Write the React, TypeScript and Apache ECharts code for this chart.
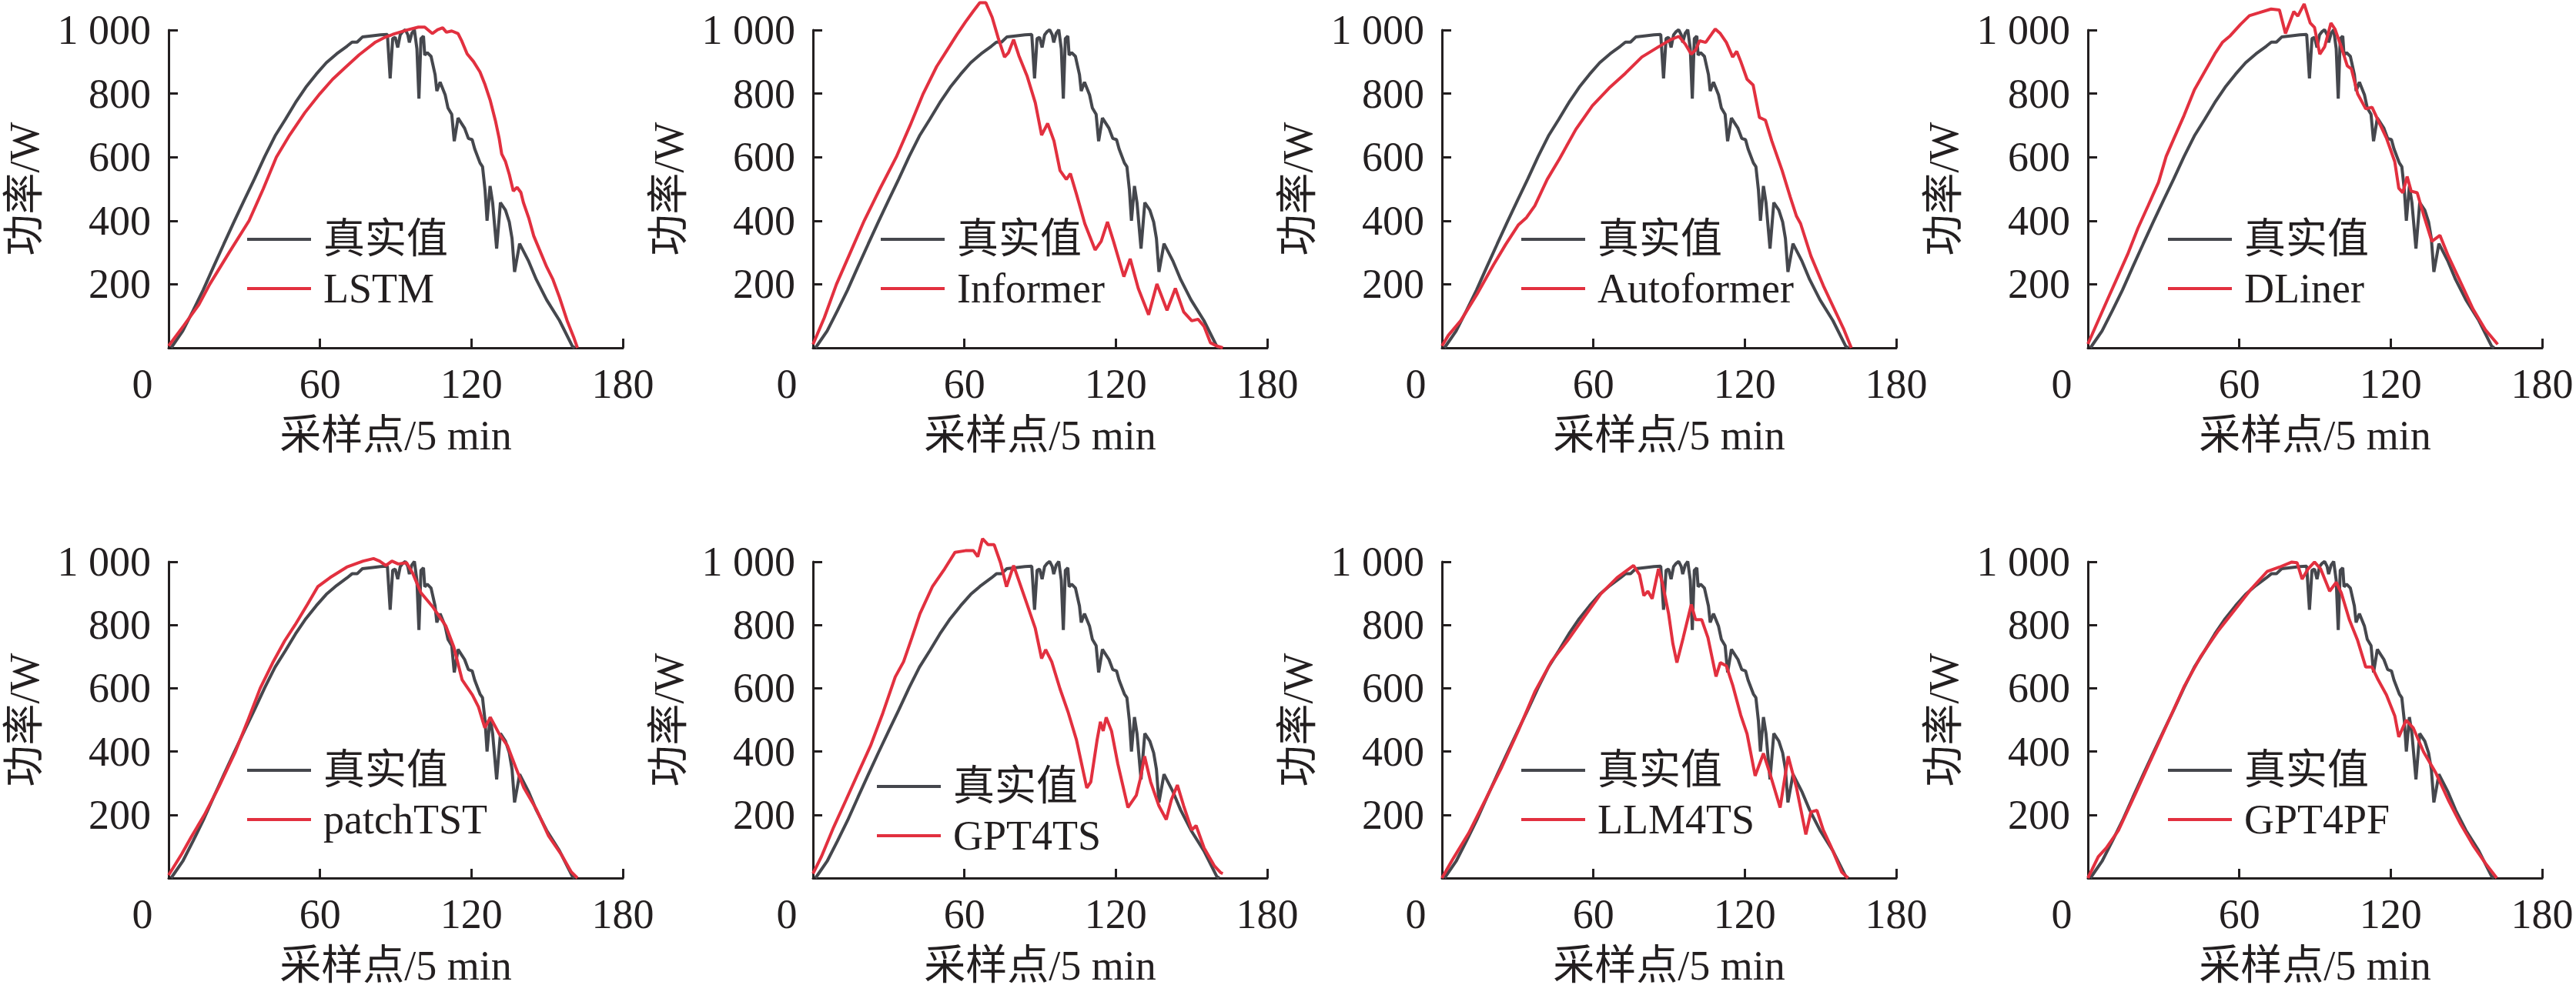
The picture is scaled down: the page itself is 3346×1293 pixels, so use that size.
import React, { useEffect, useRef } from 'react';
import * as echarts from 'echarts';

// ---------- data (x: 采样点, y: 功率/W) ----------
const X_TICKS = [0, 60, 120, 180];
const Y_TICKS = [200, 400, 600, 800, 1000];
const TRUTH_NAME = '真实值';
const MODEL_NAMES = ['LSTM', 'Informer', 'Autoformer', 'DLiner', 'patchTST', 'GPT4TS', 'LLM4TS', 'GPT4PF'];

const TRUTH: number[][] = [
  [1, 0], [5.6, 53], [9.7, 117], [13.7, 182], [17.8, 255], [21.9, 327], [25.9, 396], [30, 465],
  [34.1, 533], [38.1, 602], [42.2, 667], [46.3, 719], [50.3, 772], [54.4, 820], [58.5, 861],
  [62.5, 897], [66.6, 925], [70.7, 949], [72.7, 962], [74.7, 962], [76.8, 978], [80.8, 982], [84, 985],
  [86.7, 986], [87.8, 848], [88.8, 973], [89.8, 977], [90.8, 945], [91.8, 985], [92.8, 995], [93.8, 1001],
  [94.8, 985], [95.4, 961], [96.4, 990], [97.4, 1001], [98.4, 941], [99.2, 784], [100, 973], [101, 981],
  [101.5, 921], [102.5, 929], [104, 917], [105.6, 860], [106.3, 808], [107.6, 836], [109.6, 796],
  [110.7, 755], [112.2, 735], [113.2, 650], [114.7, 723], [117.3, 691], [118.8, 659], [120.3, 655],
  [121.3, 626], [123.4, 582], [124.4, 570], [125.4, 497], [126.2, 400], [127.4, 509], [128.4, 457],
  [130, 312], [131.5, 457], [133.5, 433], [135, 396], [136.1, 344], [137.1, 239], [139.1, 328],
  [142.7, 272], [145.7, 215], [149.8, 151], [154.9, 86], [160, 5], [161, 0],
];

const LSTM: number[][] = [
  [0, 6], [6, 70], [12, 136], [16.3, 200], [24, 300], [31.9, 400], [37.5, 500], [42.7, 600], [48, 670],
  [54, 740], [60, 800], [65, 845], [70, 882], [75.5, 922], [82, 962], [86, 978],
  [89.8, 989], [94.9, 1001], [99, 1009], [101.5, 1009], [104.5, 989], [106.6, 1001], [108.6, 1007],
  [110.1, 993], [112.2, 997], [114.7, 989], [116.2, 965], [118.3, 925], [120.8, 901], [123.4, 868],
  [125.4, 828], [127.4, 780], [129.5, 715], [131, 659], [132, 610], [133.5, 586], [135, 546],
  [136.6, 493], [138.1, 505], [139.6, 489], [140.6, 457], [142.7, 409], [144.7, 352], [146.8, 312],
  [149.8, 255], [152.3, 215], [154.9, 159], [157.9, 86], [160.5, 34], [162, 0],
];

const INFORMER: number[][] = [
  [0, 11], [4.5, 95], [9.3, 200], [14.8, 300], [20.3, 400], [26.5, 500], [33, 600], [38.5, 700],
  [43.7, 800], [49, 885], [53, 935], [57, 985], [60.4, 1025], [63.6, 1060], [66.1, 1086], [68.5, 1086],
  [71, 1040], [73.4, 975], [75.9, 915], [77.5, 929], [79.5, 970], [81.6, 919], [84.9, 854], [88.1, 771],
  [90.6, 669], [93, 706], [95.5, 651], [97.9, 558], [100.4, 530], [102, 548], [104.4, 484], [107.7, 391],
  [111.8, 308], [114.2, 335], [116.7, 396], [119.1, 335], [123.2, 224], [125.7, 280], [128.9, 187],
  [133, 104], [136.3, 201], [140.3, 118], [143.6, 187], [146.9, 113], [150.1, 85], [152.6, 90],
  [155, 67], [157.5, 16], [159.9, 6], [162.4, 0],
];

const AUTOFORMER: number[][] = [
  [0, 6], [2.5, 39], [7.4, 85], [13.9, 169], [20.4, 261], [25.3, 326], [30.2, 386], [33.5, 410],
  [36.8, 447], [41.7, 530], [46.6, 595], [53.1, 688], [59.6, 762], [66.2, 817], [72.7, 864], [79.2, 915],
  [85.8, 947], [90.7, 970], [93.9, 980], [96.4, 956], [98.8, 924], [100.5, 937], [102.1, 966],
  [104.5, 961], [107, 989], [108.3, 1003], [110.3, 989], [112.7, 961], [115.2, 915], [116.8, 933],
  [118.4, 901], [120.9, 845], [123.3, 827], [125.8, 725], [128.2, 716], [130.7, 651], [134.8, 558],
  [138, 475], [140.5, 414], [142.1, 391], [146.2, 289], [151.1, 196], [156, 113], [159.3, 57], [162.2, 0],
];

const DLINER: number[][] = [
  [0, 12], [3.6, 77], [7.6, 149], [11.7, 222], [15.8, 295], [19.8, 376], [23.9, 448], [28, 521],
  [31, 602], [34.1, 659], [38.1, 731], [42.2, 812], [46.3, 869], [50.3, 925], [53.4, 962], [56.4, 982],
  [60.5, 1018], [64, 1045], [67.7, 1054], [72.6, 1066], [75.9, 1063], [78.3, 989],
  [81.6, 1058], [83.2, 1044], [85.7, 1082], [88.1, 1022], [89.8, 1008], [91.9, 924], [93.8, 947],
  [96.3, 1022], [97.9, 1003], [100.4, 947], [102.8, 887], [104.4, 878], [106.9, 799], [110.1, 752],
  [112.6, 757], [115, 716], [118.3, 660], [121.6, 586], [123.2, 502], [124.8, 488], [126.5, 539],
  [128.1, 493], [130.5, 488], [133, 419], [136.3, 335], [139.5, 354], [142.8, 289], [147.7, 206],
  [152.6, 122], [157.5, 57], [162.4, 11],
];

const PATCHTST: number[][] = [
  [0, 9], [5.2, 76], [9, 130], [14.2, 200], [20, 290], [26.5, 400], [31, 490], [36.3, 600], [41.2, 680],
  [46, 750], [50.1, 800], [55, 865], [59.1, 921], [64, 950], [70.6, 983], [77.1, 1002], [81.2, 1010],
  [83.6, 1002], [86.1, 988], [88.5, 1002], [91, 993], [94.3, 997], [96.7, 964], [100, 902], [104.9, 855],
  [109.8, 798], [113, 731], [116.3, 627], [120.4, 579], [122.8, 541], [125.3, 475], [127.5, 508],
  [131, 456], [134.3, 418], [137.5, 351], [140.8, 285], [145.7, 218], [150.6, 133], [155.5, 76],
  [159.6, 19], [162, 0],
];

const GPT4TS: number[][] = [
  [0, 14], [3.3, 67], [8.2, 161], [13.1, 247], [17.9, 332], [22.8, 418], [27.7, 522], [32.6, 636],
  [35.9, 684], [39.2, 760], [42.4, 836], [47.3, 921], [52.2, 978], [56.3, 1030], [60.4, 1035],
  [63.6, 1035], [65.3, 1016], [67.2, 1073], [69.4, 1054], [71.8, 1054], [74.3, 997], [76.7, 921],
  [79.5, 988], [81.6, 940], [84.9, 864], [88.1, 789], [90.6, 694], [92.2, 722], [94.6, 684], [97.9, 598],
  [101.2, 522], [104.4, 437], [108.5, 285], [110.1, 304], [112.6, 437], [113.9, 494], [115, 465],
  [116.2, 508], [118.3, 465], [120.8, 361], [124.8, 223], [128.1, 261], [129.7, 313], [131.4, 385],
  [133.8, 304], [137.1, 228], [140, 185], [142, 247], [144.4, 294], [146.9, 228], [150.1, 152],
  [151.8, 166], [155, 95], [159.1, 38], [161.6, 17], [162.4, 14],
];

const LLM4TS: number[][] = [
  [0, 0], [4.1, 57], [10.6, 142], [17.2, 247], [23.7, 351], [30.2, 465], [36.8, 589], [43.3, 684],
  [49.8, 751], [56.4, 826], [62.9, 898], [69.4, 950], [75.9, 988], [78.3, 959], [80, 893], [81.6, 907],
  [83.3, 883], [85.8, 978], [87.4, 931], [89.8, 836], [91.5, 741], [93.1, 681], [95.6, 760], [98.8, 865],
  [100.5, 817], [102.9, 817], [105.4, 760], [108.6, 637], [110.3, 681], [112.7, 671], [115.2, 610],
  [118.4, 515], [120.9, 456], [124.1, 323], [127.4, 394], [129.9, 332], [134, 223], [137.2, 385],
  [140.5, 285], [144.2, 138], [146.2, 209], [148.6, 214], [151.1, 152], [154.4, 95], [158.4, 19], [160.9, 0],
];

const GPT4PF: number[][] = [
  [0, 0], [4.1, 67], [7.3, 95], [12.2, 152], [18.8, 266], [25.3, 380], [31.8, 494], [38.3, 608],
  [44.9, 703], [51.4, 779], [57.9, 845], [64.5, 912], [71, 969], [75.9, 983], [80.8, 999], [82.9, 997],
  [84.9, 945], [87.3, 978], [89.8, 999], [92.2, 978], [95.8, 907], [98.4, 935], [100.4, 902],
  [103.6, 817], [106.9, 751], [110.1, 667], [112.6, 667], [115, 627], [118.3, 579], [121.6, 513],
  [123.2, 446], [126.1, 499], [128.9, 475], [133, 399], [137.9, 332], [142.8, 247], [147.7, 171],
  [152.6, 104], [157.5, 47], [162, 0],
];

const PREDICTIONS = [LSTM, INFORMER, AUTOFORMER, DLINER, PATCHTST, GPT4TS, LLM4TS, GPT4PF];

// ---------- layout / style ----------
const W = 3346;
const H = 1293;
const COL_LEFT = [219, 1056, 1873, 2712];
const ROW_TOP = [39, 730];
const PLOT_W = 590;
const PLOT_H = [413, 411];
const LEGEND_DX = [102, 88, 103, 104, 102, 83, 103, 104];
const LEGEND_CY = [311, 311, 311, 311, 1001, 1022, 1001, 1001];

const FONT = "'Liberation Serif', 'Times New Roman', 'Noto Sans CJK SC', serif";
const FS = 54;
const INK = '#231f20';
const GRAY = '#45474d';
const RED = '#e2303f';

function buildOption() {
  const grid: any[] = [];
  const xAxis: any[] = [];
  const yAxis: any[] = [];
  const series: any[] = [];
  const legend: any[] = [];
  const textStyle = { fontSize: FS, fontFamily: FONT, color: INK };

  for (let i = 0; i < 8; i++) {
    const row = Math.floor(i / 4);
    const col = i % 4;
    const left = COL_LEFT[col];
    const top = ROW_TOP[row];
    grid.push({ left, top, width: PLOT_W, height: PLOT_H[row], containLabel: false });

    xAxis.push({
      gridIndex: i,
      type: 'value',
      min: X_TICKS[0],
      max: X_TICKS[X_TICKS.length - 1],
      interval: X_TICKS[1] - X_TICKS[0],
      axisLine: { show: true, onZero: false, lineStyle: { color: INK, width: 3 } },
      axisTick: { show: true, inside: true, length: 12, lineStyle: { color: INK, width: 3 } },
      splitLine: { show: false },
      axisLabel: {
        ...textStyle,
        margin: 20,
        formatter: (v: number) => (v === 0 ? '{o|0}' : String(v)),
        rich: { o: { ...textStyle, padding: [0, 68, 0, 0] } },
      },
      name: '采样点/5 min',
      nameLocation: 'middle',
      nameGap: 87,
      nameTextStyle: textStyle,
    });

    yAxis.push({
      gridIndex: i,
      type: 'value',
      min: 0,
      max: Y_TICKS[Y_TICKS.length - 1],
      interval: Y_TICKS[1] - Y_TICKS[0],
      axisLine: { show: true, lineStyle: { color: INK, width: 3 } },
      axisTick: { show: true, inside: true, length: 12, lineStyle: { color: INK, width: 3 } },
      splitLine: { show: false },
      axisLabel: {
        ...textStyle,
        margin: 23,
        formatter: (v: number) => (v === 0 ? '' : v >= 1000 ? `${Math.floor(v / 1000)} ${String(v % 1000).padStart(3, '0')}` : String(v)),
      },
      name: '功率/W',
      nameLocation: 'middle',
      nameGap: 160,
      nameTextStyle: textStyle,
    });

    series.push({
      type: 'line',
      name: TRUTH_NAME,
      xAxisIndex: i,
      yAxisIndex: i,
      data: TRUTH,
      symbol: 'none',
      showSymbol: false,
      clip: false,
      color: GRAY,
      itemStyle: { color: GRAY },
      lineStyle: { color: GRAY, width: 4 },
      z: 2,
    });
    series.push({
      type: 'line',
      name: MODEL_NAMES[i],
      xAxisIndex: i,
      yAxisIndex: i,
      data: PREDICTIONS[i],
      symbol: 'none',
      showSymbol: false,
      clip: false,
      color: RED,
      itemStyle: { color: RED },
      lineStyle: { color: RED, width: 4 },
      z: 3,
    });

    legend.push({
      orient: 'vertical',
      left: left + LEGEND_DX[i],
      top: LEGEND_CY[i] - 27,
      icon: 'rect',
      itemWidth: 83,
      itemHeight: 4,
      itemGap: 10,
      selectedMode: false,
      padding: 0,
      data: [TRUTH_NAME, MODEL_NAMES[i]],
      textStyle: { ...textStyle, lineHeight: 54, padding: [0, 0, 0, 11] },
    });
  }

  return {
    animation: false,
    backgroundColor: '#ffffff',
    grid,
    xAxis,
    yAxis,
    legend,
    series,
  };
}

export default function App() {
  const ref = useRef<HTMLDivElement>(null);
  useEffect(() => {
    if (!ref.current) return;
    const chart = echarts.init(ref.current, undefined, { renderer: 'svg', width: W, height: H });
    chart.setOption(buildOption() as any);
    return () => chart.dispose();
  }, []);
  return (
    <div
      ref={ref}
      style={{ position: 'absolute', left: 0, top: 0, width: W, height: H, background: '#fff' }}
    />
  );
}
